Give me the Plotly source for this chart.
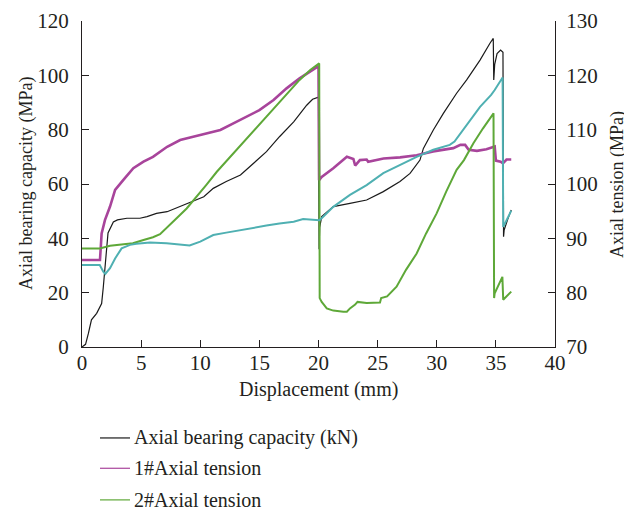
import plotly.graph_objects as go

# Axial bearing capacity (left axis, MPa)
bear_x = [0, 0.3, 0.54, 0.8, 1.24, 1.66, 1.8, 1.94, 2.2, 2.65, 3.0, 3.8, 4.9, 5.5, 6.3, 7.2, 8.3, 9.4, 10.3, 11.1,
          12.2, 13.4, 14.5, 15.6, 16.7, 17.9, 19.0, 19.5, 20.0, 20.05, 20.1, 20.27, 21.25, 22.66, 24.07, 25.48, 26.89,
          27.74, 28.58, 28.87, 29.71, 30.56, 31.68, 32.53, 33.66, 34.5, 34.78, 34.82, 34.9, 35.1, 35.4, 35.6, 35.65,
          35.7, 36.0, 36.3]
bear_y = [0, 1, 5, 10, 12.4, 16, 22, 30, 42, 46, 46.8, 47.4, 47.4, 48, 49.2, 49.8, 51.7, 53.5, 55.3, 58.4,
          60.9, 63.3, 67.6, 71.9, 77.4, 82.9, 89, 91.2, 92, 36, 44, 48, 51.7, 52.9, 54.1, 57.2, 60.9,
          63.9, 68.8, 73.1, 79.9, 86, 93.4, 98.3, 105.6, 111.8, 113.6, 98.3, 104, 108, 109.3, 108.5, 40.6,
          43, 47, 50.4]

# 1# Axial tension (right axis, MPa)
t1_x = [0, 1.52, 1.66, 1.94, 2.37, 2.8, 3.5, 4.34, 5.2, 6.0, 7.2, 8.3, 9.4, 10.5, 11.7, 12.8, 13.9, 15.0, 16.2,
        17.3, 18.4, 19.5, 20.0, 20.05, 20.27, 21.25, 22.1, 22.4, 22.95, 23.1, 23.5, 24.07, 24.2, 25.5, 26.9, 28.3,
        29.7, 31.4, 32.0, 32.4, 32.7, 33.4, 34.2, 34.9, 35.0, 35.4, 35.6, 35.9, 36.3]
t1_y = [86, 86, 90.9, 93.35, 95.85, 98.9, 100.75, 102.9, 104.1, 105, 106.85, 108.1, 108.7, 109.35, 109.95, 111.15,
        112.4, 113.6, 115.45, 117.6, 119.45, 121, 121.7, 100.7, 101.3, 102.9, 104.4, 105, 104.6, 103.4, 104.4,
        104.5, 104.1, 104.7, 104.9, 105.3, 106, 106.6, 107.2, 107.2, 106.3, 106.1, 106.4, 106.9, 104.3, 104.1,
        103.8, 104.5, 104.5]

# 2# Axial tension (right axis, MPa)
t2_x = [0, 1.5, 2.37, 3.2, 4.3, 5.2, 6.0, 6.6, 7.15, 8.0, 8.85, 9.7, 10.5, 11.4, 12.8, 14.2, 15.6, 17.0, 18.4,
        19.3, 20.06, 20.1, 20.27, 20.7, 21.25, 22.1, 22.4, 22.66, 23.1, 23.3, 24.07, 25.2, 25.3, 25.8, 26.6, 27.4,
        28.3, 29.1, 29.99, 30.8, 31.68, 32.3, 33.1, 33.9, 34.8, 34.85, 34.9, 35.55, 35.62, 36.3]
t2_y = [88.15, 88.15, 88.65, 88.9, 89.1, 89.7, 90.2, 90.75, 91.85, 93.7, 95.5, 97.65, 99.8, 102.25, 105.65, 109,
        112.4, 115.75, 119.15, 121, 122.2, 79, 78.3, 77.1, 76.7, 76.5, 76.5, 77.1, 77.8, 78.3, 78.1, 78.2, 79,
        79.3, 81.1, 84.2, 87.2, 90.9, 94.6, 98.6, 102.6, 104.4, 107.5, 110.2, 113.0, 79, 79.9, 82.9, 78.7, 80.2]

# 3# Axial tension (right axis, MPa)
t3_x = [0, 1.5, 1.8, 1.97, 2.37, 2.8, 3.35, 4.06, 4.6, 5.75, 7.15, 8.56, 9.1, 10.0, 10.5, 11.1, 12.2, 13.4, 14.5,
        15.6, 16.7, 17.9, 18.7, 19.8, 20.06, 20.27, 21.25, 22.66, 24.07, 25.48, 26.89, 28.3, 29.71, 31.1, 31.5,
        32.53, 33.66, 34.6, 34.9, 35.57, 35.62, 36.3]
t3_y = [85.1, 85.1, 83.85, 83.45, 84.5, 86.3, 88.15, 88.8, 89, 89.25, 89.1, 88.75, 88.7, 89.4, 90, 90.6, 91.05,
        91.55, 91.95, 92.35, 92.75, 93.05, 93.55, 93.5, 93.35, 93.7, 95.8, 98, 99.8, 102, 103.5, 105, 106.3, 107.2,
        107.8, 110.9, 114.2, 116.4, 117.3, 119.6, 92.1, 95.1]

x_ticks = [0, 5, 10, 15, 20, 25, 30, 35, 40]
left_ticks = [0, 20, 40, 60, 80, 100, 120]
right_ticks = [70, 80, 90, 100, 110, 120, 130]

names = ["Axial bearing capacity (kN)", "1#Axial tension", "2#Axial tension"]
colors = ["#1a1a1a", "#a8449b", "#5ea838", "#4fb0b2"]

FONT = "Liberation Serif"
INK = "#231f20"

fig = go.Figure()
fig.add_trace(go.Scatter(x=bear_x, y=bear_y, mode="lines", name=names[0],
                         line=dict(color=colors[0], width=1.2)))
fig.add_trace(go.Scatter(x=t1_x, y=t1_y, mode="lines", name=names[1], yaxis="y2",
                         line=dict(color=colors[1], width=2.6)))
fig.add_trace(go.Scatter(x=t2_x, y=t2_y, mode="lines", name=names[2], yaxis="y2",
                         line=dict(color=colors[2], width=2)))
fig.add_trace(go.Scatter(x=t3_x, y=t3_y, mode="lines", name="3#Axial tension", yaxis="y2",
                         line=dict(color=colors[3], width=2)))

# Legend drawn below the chart (sample line + label), placed in paper coordinates
leg_y = [-0.279, -0.372, -0.469]
for nm, col, yy in zip(names, colors, leg_y):
    fig.add_shape(type="line", xref="paper", yref="paper", x0=0.038, x1=0.1015, y0=yy, y1=yy,
                  line=dict(color=col, width=1.2))
    fig.add_annotation(xref="paper", yref="paper", x=0.1057, y=yy, text=nm, showarrow=False,
                       xanchor="left", yanchor="middle", font=dict(family=FONT, size=20, color=INK))

# Axis titles
fig.add_annotation(xref="paper", yref="paper", x=0.5, y=-0.129, text="Displacement (mm)", showarrow=False,
                   xanchor="center", yanchor="middle", font=dict(family=FONT, size=20, color=INK))
fig.add_annotation(xref="paper", yref="paper", x=-0.1184, y=0.503, text="Axial bearing capacity (MPa)",
                   showarrow=False, textangle=-90, xanchor="center", yanchor="middle",
                   font=dict(family=FONT, size=18, color=INK))
fig.add_annotation(xref="paper", yref="paper", x=1.1332, y=0.497, text="Axial tension (MPa)",
                   showarrow=False, textangle=-90, xanchor="center", yanchor="middle",
                   font=dict(family=FONT, size=18, color=INK))

axis_common = dict(showgrid=False, zeroline=False, showline=True, linecolor=INK, linewidth=1.3,
                   ticks="inside", ticklen=7, tickcolor=INK, tickwidth=1.3, automargin=False,
                   tickfont=dict(family=FONT, size=21, color=INK))

fig.update_layout(
    width=624, height=506,
    margin=dict(l=74, r=77, t=13, b=167),
    plot_bgcolor="white", paper_bgcolor="white",
    font=dict(family=FONT, color=INK),
    showlegend=False,
    xaxis=dict(range=[0, 40], tickvals=x_ticks, ticklabelstandoff=-3, **axis_common),
    yaxis=dict(range=[0, 120], tickvals=left_ticks, ticklabelstandoff=8, **axis_common),
    yaxis2=dict(range=[70, 130], tickvals=right_ticks, overlaying="y", side="right", ticklabelstandoff=6,
                **axis_common),
)

fig.write_html("out.html")
